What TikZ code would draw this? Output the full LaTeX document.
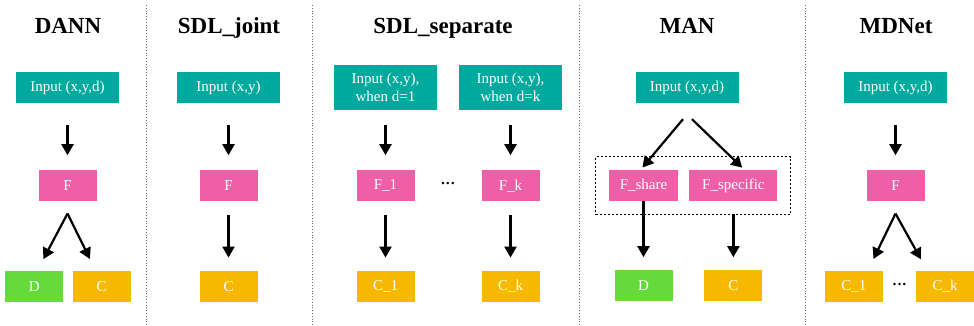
\documentclass[tikz,border=0pt]{standalone}
\usepackage{fontspec}
\setmainfont{Liberation Serif}
\usetikzlibrary{arrows.meta,positioning,calc,fit}
\definecolor{InTeal}{HTML}{00A99D}
\definecolor{FPink}{HTML}{EF5FA8}
\definecolor{DGreen}{HTML}{66DA3A}
\definecolor{COrange}{HTML}{F6B900}

\begin{document}
\begin{tikzpicture}[
  x=1pt,y=-1pt,
  box/.style={inner sep=0pt,align=center,text=white,font=\fontsize{15}{18}\selectfont,minimum height=31pt},
  inp/.style={box,fill=InTeal,minimum width=103pt},
  feat/.style={box,fill=FPink,minimum width=58pt},
  dom/.style={box,fill=DGreen,minimum width=58pt},
  cls/.style={box,fill=COrange,minimum width=58pt},
  ttl/.style={anchor=base,font=\fontsize{23}{26}\selectfont\bfseries},
  dotsym/.style={font=\fontsize{15}{18}\selectfont\bfseries},
  sep/.style={black!60,dotted,line width=0.8pt},
  arr/.style={-{Triangle[length=11pt,width=12pt]},line width=2.2pt,shorten <=13pt,shorten >=13pt}
]
\fill[white] (0,0) rectangle (974,325);
\useasboundingbox (0,0) rectangle (974,325);
\draw[sep] (146,5) -- (146,325);
\draw[sep] (312,5) -- (312,325);
\draw[sep] (579,5) -- (579,325);
\draw[sep] (805,5) -- (805,325);

\node[ttl] (t1) at (68,33) {DANN};
\node[inp] (in1) at (67.5,87.5) {Input (x,y,d)};
\node[feat,below=67pt of in1] (f1) {F};
\node[dom,below left=69pt and 4pt of f1.south] (d1) {D};
\node[cls,below right=69pt and 5pt of f1.south] (c1) {C};
\coordinate (fork1) at ([yshift=-12pt]f1.south);
\draw[arr,shorten <=22pt,shorten >=15pt] (in1) -- (f1);
\draw[arr,shorten <=0pt] (fork1) -- ([xshift=3pt]d1.north);
\draw[arr,shorten <=0pt] (fork1) -- ([xshift=-6pt]c1.north);

\node[ttl] (t2) at (229,33) {SDL\_joint};
\node[inp] (in2) at (228.5,87.5) {Input (x,y)};
\node[feat,below=67pt of in2] (f2) {F};
\node[cls,below=69pt of f2] (c2) {C};
\draw[arr,shorten <=22pt,shorten >=15pt] (in2) -- (f2);
\draw[arr] (f2) -- (c2);

\node[ttl] (t3) at (443,33) {SDL\_separate};
\node[inp,minimum height=45pt] (in3a) at (385.5,87.5) {Input (x,y),\\when d=1};
\node[inp,minimum height=45pt] (in3b) at (510.5,87.5) {Input (x,y),\\when d=k};
\node[feat,below=60pt of in3a] (f3a) {F\_1};
\node[feat,below=60pt of in3b] (f3b) {F\_k};
\node[dotsym] (dots3) at ($(f3a)!0.5!(f3b)$) {···};
\node[cls,below=69pt of f3a] (c3a) {C\_1};
\node[cls,below=69pt of f3b] (c3b) {C\_k};
\draw[arr,shorten <=15pt,shorten >=15pt] (in3a) -- (f3a);
\draw[arr,shorten <=15pt,shorten >=15pt] (in3b) -- (f3b);
\draw[arr] (f3a) -- (c3a);
\draw[arr] (f3b) -- (c3b);

\node[ttl] (t4) at (687,33) {MAN};
\node[inp] (in4) at (687,87.5) {Input (x,y,d)};
\coordinate (split) at ([yshift=-16pt]in4.south);
\node[feat,minimum width=69pt] (fs) at (643.5,185.5) {F\_share};
\node[feat,minimum width=88pt,right=11pt of fs] (fsp) {F\_specific};
\node[draw,dash pattern=on 2pt off 2pt,line width=0.8pt,inner sep=13pt,fit=(fs)(fsp)] (shared) {};
\node[dom,below=69pt of fs] (d4) {D};
\node[cls,below=69pt of fsp] (c4) {C};
\draw[arr,shorten <=0pt,shorten >=3pt] ([xshift=-4pt]split) -- ([xshift=-3pt]fs.north);
\draw[arr,shorten <=0pt,shorten >=3pt] ([xshift=5pt]split) -- ([xshift=11pt]fsp.north);
\draw[arr,shorten <=0pt] (fs) -- (d4);
\draw[arr] (fsp) -- (c4);

\node[ttl] (t5) at (896,33) {MDNet};
\node[inp] (in5) at (895.5,87.5) {Input (x,y,d)};
\node[feat,below=67pt of in5] (f5) {F};
\node[cls,below left=69pt and 12.5pt of f5.south] (c5a) {C\_1};
\node[cls,below right=69pt and 20.5pt of f5.south] (c5b) {C\_k};
\node[dotsym] (dots5) at ($(c5a)!0.5!(c5b)$) {···};
\coordinate (fork5) at ([yshift=-12pt]f5.south);
\draw[arr,shorten <=22pt,shorten >=15pt] (in5) -- (f5);
\draw[arr,shorten <=0pt] (fork5) -- ([xshift=14pt]c5a.north);
\draw[arr,shorten <=0pt] (fork5) -- ([xshift=-18pt]c5b.north);
\end{tikzpicture}
\end{document}
